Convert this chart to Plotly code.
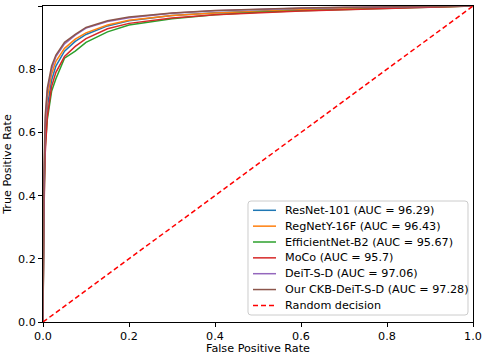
import plotly.graph_objects as go

fpr = [0, 0.002, 0.005, 0.01, 0.02, 0.03, 0.05, 0.075, 0.1, 0.15, 0.2, 0.3, 0.4, 0.5, 0.6, 0.7, 0.8, 0.9, 1.0]

resnet = [0, 0.38, 0.57, 0.68, 0.765, 0.81, 0.857, 0.888, 0.91, 0.937, 0.953, 0.970, 0.979, 0.985, 0.989, 0.992, 0.995, 0.998, 1.0]
regnet = [0, 0.40, 0.60, 0.71, 0.785, 0.825, 0.866, 0.895, 0.915, 0.940, 0.955, 0.970, 0.978, 0.984, 0.988, 0.991, 0.994, 0.997, 1.0]
effnet = [0, 0.35, 0.55, 0.64, 0.730, 0.770, 0.835, 0.857, 0.885, 0.918, 0.940, 0.960, 0.972, 0.980, 0.985, 0.989, 0.993, 0.996, 1.0]
moco = [0, 0.33, 0.53, 0.65, 0.745, 0.790, 0.840, 0.872, 0.897, 0.928, 0.945, 0.962, 0.972, 0.979, 0.984, 0.988, 0.992, 0.996, 1.0]
deit = [0, 0.40, 0.62, 0.73, 0.800, 0.840, 0.880, 0.908, 0.930, 0.951, 0.963, 0.977, 0.985, 0.990, 0.993, 0.995, 0.997, 0.999, 1.0]
ours = [0, 0.45, 0.65, 0.74, 0.810, 0.845, 0.885, 0.910, 0.932, 0.953, 0.965, 0.978, 0.986, 0.991, 0.994, 0.996, 0.998, 0.999, 1.0]

names = ["ResNet-101 (AUC = 96.29)", "RegNetY-16F (AUC = 96.43)", "EfficientNet-B2 (AUC = 95.67)",
         "MoCo (AUC = 95.7)", "DeiT-S-D (AUC = 97.06)", "Our CKB-DeiT-S-D (AUC = 97.28)"]
series = [resnet, regnet, effnet, moco, deit, ours]
colors = ["#1f77b4", "#ff7f0e", "#2ca02c", "#d62728", "#9467bd", "#8c564b"]

rand_name = "Random decision"
rand_x = [0, 1]
rand_y = [0, 1]

tick_vals = [0, 0.2, 0.4, 0.6, 0.8, 1.0]
tick_text = ["0.0", "0.2", "0.4", "0.6", "0.8", "1.0"]

W, H = 484, 355
L, R, T, B = 43, 11, 6, 33
PW, PH = W - L - R, H - T - B

def px_x(px):
    return (px - L) / PW

def px_y(py):
    return (H - B - py) / PH

fig = go.Figure()
for n, s, c in zip(names, series, colors):
    fig.add_trace(go.Scatter(x=fpr, y=s, mode="lines", name=n, showlegend=False,
                             line=dict(color=c, width=1.5)))
fig.add_trace(go.Scatter(x=rand_x, y=rand_y, mode="lines", name=rand_name, showlegend=False,
                         line=dict(color="#ff0000", width=1.5, dash="5px,3px")))

font = dict(family="DejaVu Sans", size=11.2, color="black")
axis_common = dict(range=[0, 1], tickvals=tick_vals, ticktext=tick_text, ticks="outside", ticklen=4,
                   tickwidth=1, tickcolor="black", showline=True, linecolor="black", linewidth=1,
                   mirror=True, showgrid=False, zeroline=False, tickfont=font, automargin=False)

# legend box with rounded corners (drawn manually to match matplotlib spacing)
bx0, bx1, by0, by1, rr = 248, 468, 201, 315, 3
pts = [
    ("M", bx0 + rr, by0), ("L", bx1 - rr, by0), ("Q", bx1, by0, bx1, by0 + rr),
    ("L", bx1, by1 - rr), ("Q", bx1, by1, bx1 - rr, by1), ("L", bx0 + rr, by1),
    ("Q", bx0, by1, bx0, by1 - rr), ("L", bx0, by0 + rr), ("Q", bx0, by0, bx0 + rr, by0),
]
path = ""
for p in pts:
    cmd = p[0]
    coords = p[1:]
    segs = []
    for k in range(0, len(coords), 2):
        segs.append(f"{px_x(coords[k]):.5f},{px_y(coords[k + 1]):.5f}")
    path += cmd + " ".join(segs) + " "
path += "Z"
shapes = [dict(type="path", xref="paper", yref="paper", path=path,
               line=dict(color="#cccccc", width=1), fillcolor="rgba(255,255,255,0.8)", layer="above")]
annotations = []
labels = names + [rand_name]
lcolors = colors + ["#ff0000"]
for i, (lab, c) in enumerate(zip(labels, lcolors)):
    yc = 210.3 + i * 15.85
    shapes.append(dict(type="line", xref="paper", yref="paper", x0=px_x(253), x1=px_x(276),
                       y0=px_y(yc), y1=px_y(yc), layer="above",
                       line=dict(color=c, width=1.5, dash="5px,3px" if i == 6 else "solid")))
    annotations.append(dict(xref="paper", yref="paper", x=px_x(283), y=px_y(yc), text=lab, showarrow=False,
                            xanchor="left", yanchor="middle", font=font))

fig.update_layout(
    width=W, height=H,
    margin=dict(l=L, r=R, t=T, b=B),
    plot_bgcolor="white", paper_bgcolor="white",
    font=font,
    xaxis=dict(title=dict(text="False Positive Rate", font=font, standoff=2), **axis_common),
    yaxis=dict(title=dict(text="True Positive Rate", font=font, standoff=4), **axis_common),
    shapes=shapes, annotations=annotations,
    showlegend=False,
)
fig.write_html("out.html", config={"displayModeBar": False},
               post_script="document.body.style.margin='0';document.body.style.overflow='hidden';")
